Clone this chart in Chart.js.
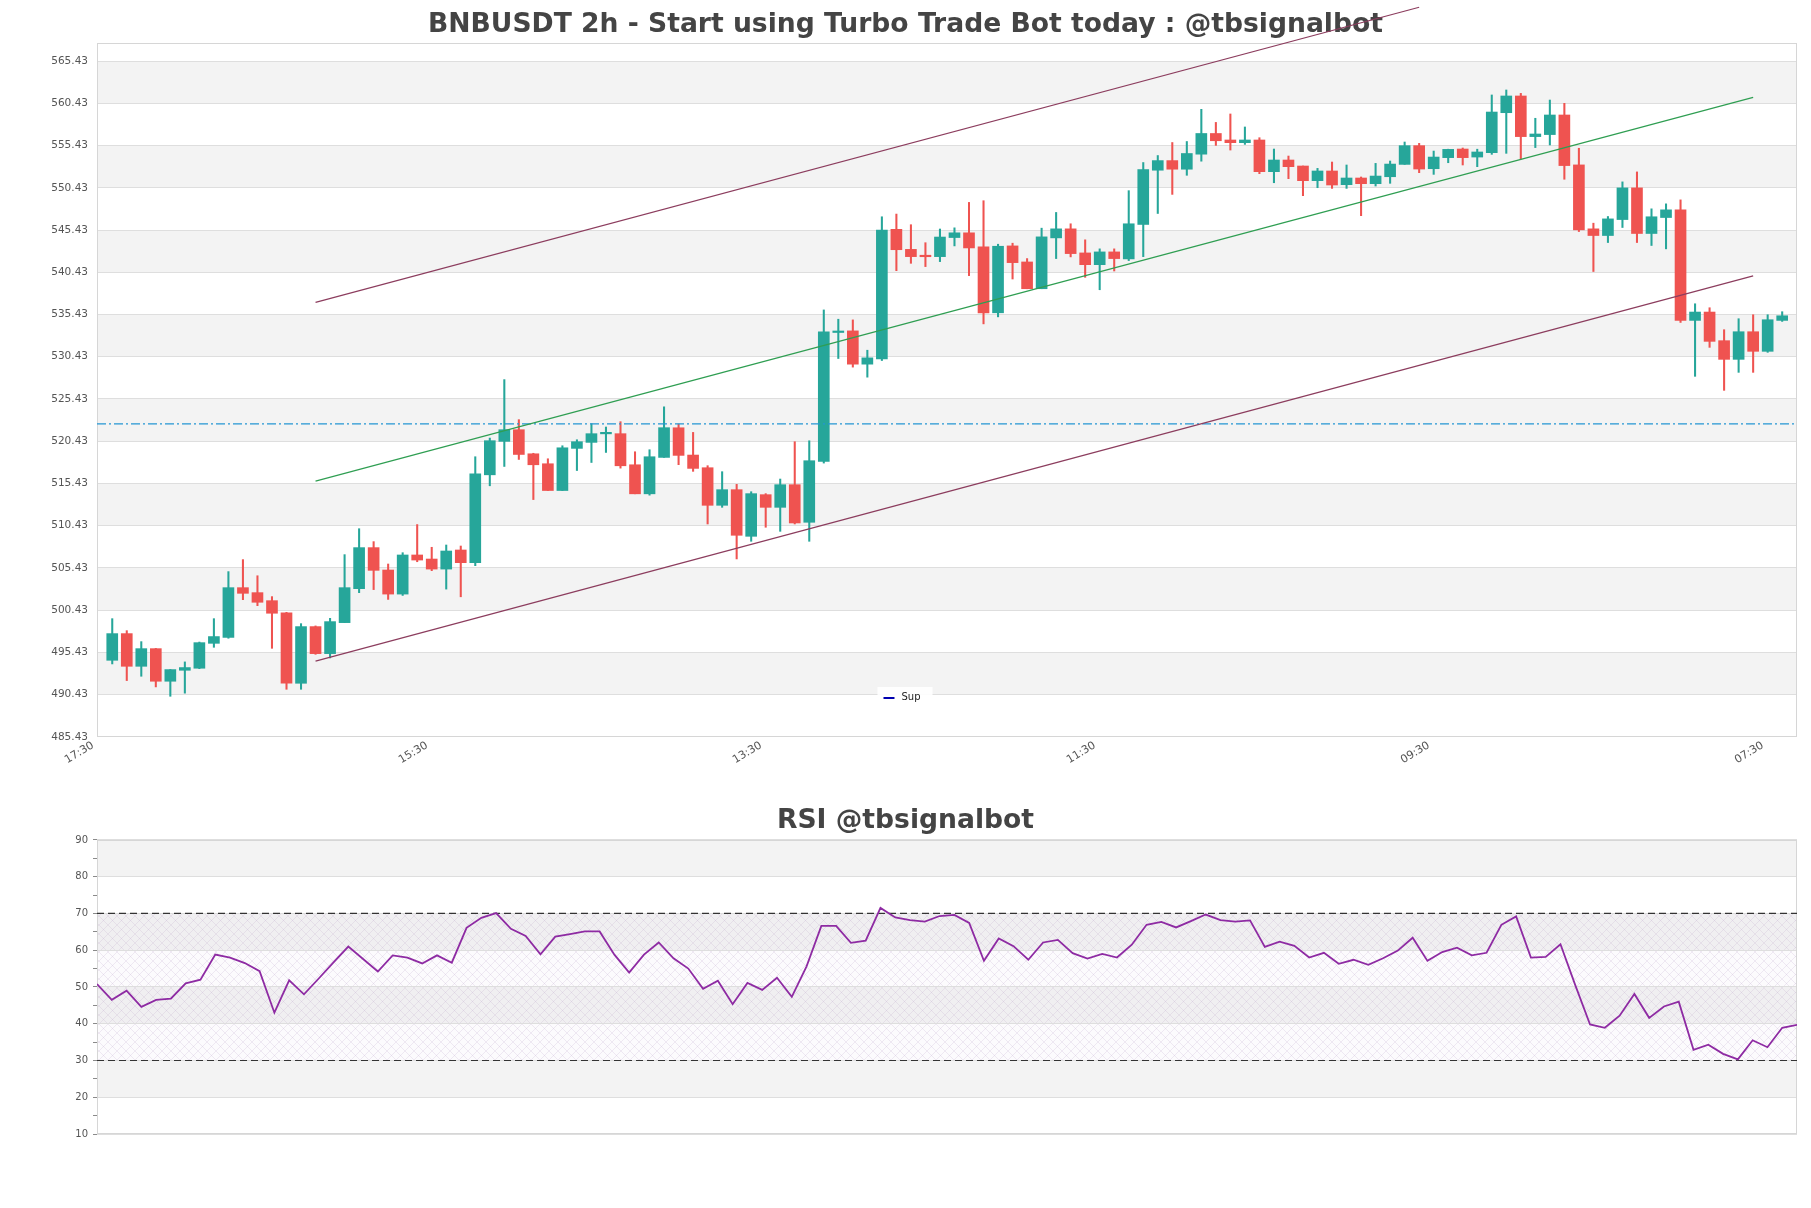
<!DOCTYPE html>
<html><head><meta charset="utf-8">
<script src="https://cdn.jsdelivr.net/npm/chart.js@4.4.1/dist/chart.umd.min.js"></script>
<style>
html,body{margin:0;padding:0;background:#fff;}
#wrap{position:relative;width:1811px;height:1208px;overflow:hidden;}
#main{position:absolute;left:0;top:0;}
#rsi{position:absolute;left:0;top:790px;}
</style></head><body>
<div id="wrap">
<canvas id="main" width="1811" height="790"></canvas>
<canvas id="rsi" width="1811" height="418"></canvas>
</div>
<script>
// ---------------- DATA ----------------
const openP = [494.49,497.65,493.78,495.87,492.01,493.31,493.55,496.5,497.2,503.09,
502.5,501.55,500.1,491.77,498.48,495.28,498.95,502.97,507.83,505.18,
502.33,506.96,506.48,505.29,507.55,506.05,516.45,520.41,521.79,518.94,
517.76,514.59,519.58,520.29,521.3,521.32,517.64,514.2,518.51,522.02,
518.79,517.29,512.84,514.69,509.17,514.1,512.6,515.28,510.83,518.04,
533.3,533.49,529.55,530.18,545.51,543.14,542.3,542.28,544.54,545.1,
543.43,535.63,543.55,541.65,538.48,544.5,545.57,542.72,541.33,542.84,
542.01,546.09,552.51,553.65,552.63,554.41,556.86,556.09,555.77,556.09,
552.34,553.72,553.01,551.27,552.42,550.8,551.59,550.92,551.74,553.2,
555.42,552.69,554.0,555.02,554.07,554.59,559.32,561.3,556.49,556.73,
559.05,553.14,545.57,544.78,546.67,550.42,545.02,546.91,547.82,534.73,
535.72,532.33,530.12,533.39,531.07,534.73];
const highP = [499.42,498.0,496.7,495.9,493.4,494.3,496.65,499.42,504.99,506.41,
504.5,502.03,500.17,498.83,498.56,499.46,507.0,510.07,508.54,505.89,
507.23,510.56,507.87,508.14,508.02,518.59,520.8,527.72,522.98,519.0,
518.35,519.89,520.6,522.5,522.11,522.74,519.18,519.42,524.5,522.46,
521.47,517.53,516.82,515.32,514.45,514.22,515.95,520.37,520.48,535.97,
534.87,534.79,531.2,547.0,547.32,546.06,543.93,545.55,545.69,548.7,
548.9,543.75,543.87,542.05,545.65,547.51,546.17,544.27,543.2,543.2,
550.09,553.42,554.25,555.79,555.91,559.72,558.17,559.17,557.63,556.36,
555.02,554.19,553.01,552.73,553.48,553.13,551.71,553.32,553.6,555.85,
555.69,554.78,555.0,555.14,555.0,561.42,562.01,561.61,558.66,560.82,
560.43,555.11,546.24,547.03,551.13,552.31,547.94,548.53,549.0,536.7,
536.23,533.63,534.93,535.4,535.4,535.76];
const lowP = [494.06,492.09,492.6,491.34,490.23,490.6,493.5,496.03,497.1,501.67,
500.96,495.91,491.06,491.06,495.2,494.77,498.95,502.5,502.86,501.7,
502.17,506.16,505.1,502.92,502.01,505.69,515.15,517.44,518.27,513.52,
514.59,514.59,516.96,517.91,519.1,517.24,514.2,514.04,518.51,517.65,
516.86,510.63,512.6,506.49,508.58,510.24,509.76,510.63,508.58,517.84,
530.22,529.2,528.01,529.98,540.62,541.49,541.1,541.69,543.55,540.03,
534.32,535.15,539.63,538.48,538.48,542.05,542.25,539.83,538.36,540.58,
541.81,542.28,547.39,549.65,551.91,553.58,555.45,554.9,555.57,552.1,
551.03,551.51,549.5,550.44,550.36,550.36,547.13,550.64,550.96,553.2,
552.22,552.02,553.4,553.13,552.93,554.39,554.51,553.85,555.19,555.5,
551.44,545.25,540.52,543.95,545.73,543.95,543.6,543.2,534.49,528.11,
531.54,526.45,528.58,528.58,530.95,534.61];
const closeP = [497.65,493.78,495.87,492.01,493.39,493.63,496.58,497.3,503.09,502.42,
501.36,500.06,491.77,498.48,495.28,499.07,503.09,507.83,505.14,502.33,
506.96,506.36,505.29,507.43,506.05,516.57,520.49,521.79,518.86,517.64,
514.59,519.65,520.37,521.32,521.35,517.52,514.2,518.59,522.03,518.75,
517.21,512.84,514.69,509.29,514.22,512.6,515.28,510.75,518.12,533.37,
533.45,529.55,530.3,545.43,543.1,542.28,542.27,544.6,545.1,543.31,
535.63,543.51,541.57,538.48,544.62,545.57,542.64,541.33,542.84,542.05,
546.17,552.59,553.65,552.63,554.49,556.86,556.0,555.77,556.09,552.34,
553.72,552.93,551.27,552.42,550.76,551.59,550.92,551.82,553.24,555.42,
552.65,554.07,554.98,554.0,554.67,559.4,561.3,556.49,556.8,559.05,
553.06,545.45,544.78,546.75,550.42,545.02,547.0,547.82,534.73,535.72,
532.25,530.12,533.39,531.07,534.81,535.28];
const rsiValues = [50.8,46.5,49.0,44.6,46.5,46.8,51.0,52.0,58.8,58.0,
56.5,54.3,43.0,51.8,48.0,52.3,56.7,61.0,57.6,54.2,
58.6,58.0,56.4,58.6,56.6,66.1,68.8,70.1,65.8,63.9,
58.9,63.7,64.4,65.1,65.1,58.8,53.9,58.8,62.1,57.8,
55.0,49.5,51.7,45.3,51.1,49.2,52.5,47.3,55.6,66.6,
66.6,62.0,62.6,71.5,68.9,68.2,67.8,69.3,69.6,67.4,
57.1,63.2,61.1,57.4,62.1,62.8,59.2,57.7,59.0,58.0,
61.5,66.9,67.7,66.2,67.9,69.7,68.2,67.8,68.1,60.9,
62.3,61.2,58.0,59.3,56.3,57.4,56.0,57.8,59.9,63.4,
57.1,59.5,60.7,58.6,59.3,66.9,69.2,58.0,58.2,61.6,
50.5,39.8,38.9,42.2,48.1,41.6,44.7,46.0,32.9,34.3,
31.8,30.3,35.5,33.6,38.9,39.7];
const xTickIdx = [-1, 22, 45, 68, 91, 114];
const xTickLabels = ['17:30', '15:30', '13:30', '11:30', '09:30', '07:30'];
const yTicks = [485.43,490.43,495.43,500.43,505.43,510.43,515.43,520.43,525.43,
530.43,535.43,540.43,545.43,550.43,555.43,560.43,565.43];
const rsiTicks = [10,15,20,25,30,35,40,45,50,55,60,65,70,75,80,85,90];
const upperX = [14, 90];
const upperY = [536.86, 571.80];
const channelX = [14, 113];
const middleY = [515.70, 561.14];
const lowerY = [494.39, 540.01];
const supLevel = 522.47;
const rsiLevels = [70, 30];
const mainXRange = [-1.05, 116.02];
const mainYRange = [485.41, 567.57];
const rsiXRange = [0, 115];
const rsiYRange = [10, 90];

// ---------------- STYLE ----------------
const UP = '#26a69a', DOWN = '#ef5350';
const LABEL_SHIFT = 0.33; // label anchor nudge (style only)
Chart.defaults.font.family = 'DejaVu Sans';
Chart.defaults.color = '#555';

const bandsPlugin = {
  id: 'bands',
  beforeDraw(chart, args, opts) {
    const {ctx, chartArea: a, scales: {y}} = chart;
    ctx.save();
    ctx.fillStyle = '#fff';
    ctx.fillRect(a.left, a.top, a.right - a.left, a.bottom - a.top);
    const t = opts.ticks;
    for (let k = 1; k < t.length - 1; k += 2) {
      const y1 = y.getPixelForValue(t[k + 1]), y2 = y.getPixelForValue(t[k]);
      ctx.fillStyle = '#f3f3f3';
      ctx.fillRect(a.left, y1, a.right - a.left, y2 - y1);
    }
    if (opts.hatch) {
      const pc = document.createElement('canvas');
      pc.width = 9; pc.height = 9;
      const g = pc.getContext('2d');
      g.strokeStyle = 'rgba(185,160,200,0.33)';
      g.lineWidth = 0.6;
      g.beginPath();
      g.moveTo(0, 0); g.lineTo(9, 9);
      g.moveTo(9, 0); g.lineTo(0, 9);
      g.stroke();
      const pat = ctx.createPattern(pc, 'repeat');
      const h1 = y.getPixelForValue(opts.hatch[1]), h2 = y.getPixelForValue(opts.hatch[0]);
      ctx.fillStyle = 'rgba(210,185,222,0.06)';
      ctx.fillRect(a.left, h1, a.right - a.left, h2 - h1);
      ctx.fillStyle = pat;
      ctx.fillRect(a.left, h1, a.right - a.left, h2 - h1);
    }
    ctx.restore();
  },
  beforeDatasetsDraw(chart) {
    const {ctx, chartArea: a} = chart;
    ctx.save();
    ctx.strokeStyle = '#d6d6d6';
    ctx.lineWidth = 1;
    ctx.strokeRect(Math.round(a.left) + 0.5, Math.round(a.top) + 0.5,
      Math.round(a.right - a.left) - 1, Math.round(a.bottom - a.top) - 1);
    ctx.restore();
  }
};

const legendPlugin = {
  id: 'supLegend',
  afterDraw(chart, args, opts) {
    if (!opts.text) return;
    const {ctx, chartArea: a} = chart;
    const cx = (a.left + a.right) / 2 - 42;
    const cy = a.bottom - 40;
    ctx.save();
    ctx.font = '10px "DejaVu Sans"';
    const tw = ctx.measureText(opts.text).width;
    const w = 14 + 6 + tw + 16;
    ctx.fillStyle = 'rgba(255,255,255,0.9)';
    ctx.fillRect(cx - w / 2, cy - 10, w, 20);
    ctx.strokeStyle = opts.color;
    ctx.lineWidth = 2;
    ctx.beginPath();
    ctx.moveTo(cx - w / 2 + 6, cy + 1);
    ctx.lineTo(cx - w / 2 + 17, cy + 1);
    ctx.stroke();
    ctx.fillStyle = '#222';
    ctx.textBaseline = 'middle';
    ctx.fillText(opts.text, cx - w / 2 + 24, cy);
    ctx.restore();
  }
};

const rightGap = {
  type: 'linear', position: 'right', display: true,
  grid: {display: false, drawTicks: false}, border: {display: false},
  ticks: {display: false},
  afterFit: s => { s.width = 14; }
};

const candleColor = ctx => closeP[ctx.dataIndex] >= openP[ctx.dataIndex] ? UP : DOWN;
const idx = openP.map((_, i) => i);

new Chart(document.getElementById('main'), {
  type: 'bar',
  data: {
    datasets: [
      {
        type: 'line', label: 'upper', order: 0, clip: false,
        data: upperX.map((x, i) => ({x, y: upperY[i]})),
        borderColor: '#8c3d5e', borderWidth: 1.2, pointRadius: 0, fill: false
      },
      {
        type: 'line', label: 'middle', order: 0,
        data: channelX.map((x, i) => ({x, y: middleY[i]})),
        borderColor: '#2f9e52', borderWidth: 1.2, pointRadius: 0, fill: false
      },
      {
        type: 'line', label: 'lower', order: 0,
        data: channelX.map((x, i) => ({x, y: lowerY[i]})),
        borderColor: '#8c3d5e', borderWidth: 1.2, pointRadius: 0, fill: false
      },
      {
        type: 'line', label: 'Sup', order: 0,
        data: mainXRange.map(x => ({x, y: supLevel})),
        borderColor: '#2496d3', borderWidth: 1.2, borderDash: [9, 3, 2, 3],
        pointRadius: 0, fill: false
      },
      {
        label: 'body', order: 1, grouped: false,
        data: idx.map(i => ({x: i, y: [openP[i], closeP[i]]})),
        backgroundColor: candleColor, barThickness: 11, minBarLength: 1.5,
        borderWidth: 0, borderSkipped: false
      },
      {
        label: 'wick', order: 2, grouped: false,
        data: idx.map(i => ({x: i, y: [lowP[i], highP[i]]})),
        backgroundColor: candleColor, barThickness: 1.4,
        borderWidth: 0, borderSkipped: false
      }
    ]
  },
  options: {
    responsive: false, animation: false, devicePixelRatio: 1,
    layout: {padding: {left: 0, right: 0, top: 0, bottom: 0}},
    plugins: {
      legend: {display: false},
      tooltip: {enabled: false},
      title: {
        display: true,
        text: 'BNBUSDT 2h - Start using Turbo Trade Bot today : @tbsignalbot',
        font: {size: 26.6, weight: 'bold', family: 'DejaVu Sans'},
        color: '#444', padding: {top: 9.5, bottom: 1.6}
      },
      bands: {ticks: yTicks},
      supLegend: {text: 'Sup', color: '#0000b0'}
    },
    scales: {
      x: {
        type: 'linear', min: mainXRange[0], max: mainXRange[1], offset: false,
        afterBuildTicks: s => { s.ticks = xTickIdx.map(v => ({value: v - LABEL_SHIFT})); },
        afterFit: s => { s.height = 53; },
        grid: {display: false, offset: false, drawTicks: false},
        border: {display: false},
        ticks: {
          autoSkip: false, maxRotation: 31, minRotation: 31, padding: 2,
          font: {size: 11}, color: '#555',
          callback: (v, i) => xTickLabels[i]
        }
      },
      y: {
        type: 'linear', min: mainYRange[0], max: mainYRange[1],
        afterBuildTicks: s => { s.ticks = yTicks.map(v => ({value: v})); },
        afterFit: s => { s.width = 97; },
        grid: {color: '#dedede', drawTicks: false, lineWidth: 1},
        border: {display: false},
        ticks: {padding: 9, font: {size: 10.5}, color: '#555', callback: v => v.toFixed(2)}
      },
      yR: rightGap
    }
  },
  plugins: [bandsPlugin, legendPlugin]
});

new Chart(document.getElementById('rsi'), {
  type: 'line',
  data: {
    datasets: [
      {
        label: 'RSI', order: 0,
        data: rsiValues.map((v, i) => ({x: i, y: v})),
        borderColor: '#8e2ba3', borderWidth: 1.8, pointRadius: 0, tension: 0, fill: false
      },
      ...rsiLevels.map(l => ({
        label: 'lvl' + l, order: 1,
        data: rsiXRange.map(x => ({x, y: l})),
        borderColor: '#333', borderWidth: 1.2, borderDash: [7, 4],
        pointRadius: 0, fill: false
      }))
    ]
  },
  options: {
    responsive: false, animation: false, devicePixelRatio: 1,
    layout: {padding: {left: 0, right: 0, top: 0, bottom: 74}},
    plugins: {
      legend: {display: false},
      tooltip: {enabled: false},
      title: {
        display: true, text: 'RSI @tbsignalbot',
        font: {size: 26.6, weight: 'bold', family: 'DejaVu Sans'},
        color: '#444', padding: {top: 15.5, bottom: 2.5}
      },
      bands: {ticks: rsiTicks.filter(v => v % 10 === 0), hatch: [30, 70]},
      supLegend: {}
    },
    scales: {
      x: {type: 'linear', min: rsiXRange[0], max: rsiXRange[1], display: false},
      y: {
        type: 'linear', min: rsiYRange[0], max: rsiYRange[1],
        afterBuildTicks: s => { s.ticks = rsiTicks.map(v => ({value: v})); },
        afterFit: s => { s.width = 97; },
        grid: {
          color: c => (c.tick && c.tick.value % 10 === 0) ? '#dedede' : 'rgba(0,0,0,0)',
          tickColor: '#8a8a8a', tickLength: 4, drawTicks: true
        },
        border: {display: false},
        ticks: {
          padding: 5, font: {size: 10}, color: '#555', autoSkip: false,
          callback: v => (v % 10 === 0 ? String(v) : '')
        }
      },
      yR: rightGap
    }
  },
  plugins: [bandsPlugin, legendPlugin]
});
</script>
</body></html>
